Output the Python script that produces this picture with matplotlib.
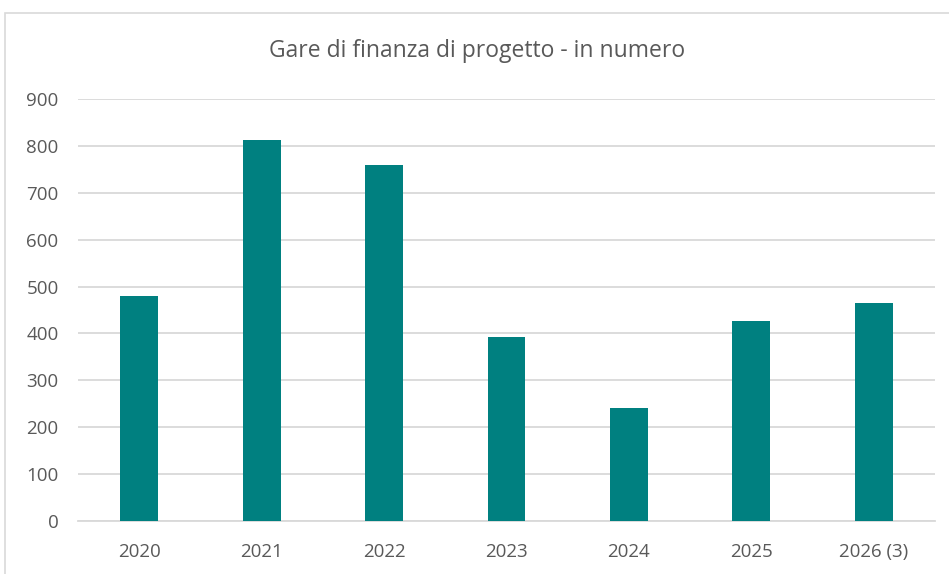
import matplotlib
matplotlib.use("Agg")
import matplotlib.pyplot as plt
from matplotlib.patches import Rectangle

categories = ["2020", "2021", "2022", "2023", "2024", "2025", "2026 (3)"]
values = [480, 812, 759, 393, 241, 426, 464]
yticks = [0, 100, 200, 300, 400, 500, 600, 700, 800, 900]
title = "Gare di finanza di progetto - in numero"

plt.rcParams['font.family'] = ['Open Sans', 'DejaVu Sans']
W, H = 949, 574
fig = plt.figure(figsize=(W / 100, H / 100), dpi=100)
fig.patch.set_facecolor("white")

# chart border
fig.patches.append(Rectangle((5 / W, -0.1), 1.1, 1 - 13 / H + 0.1, transform=fig.transFigure,
                             fill=False, edgecolor="#d9d9d9", linewidth=1.2))

ax = fig.add_axes([78 / W, 1 - 521 / H, (935 - 78) / W, (521 - 99) / H])
x = list(range(len(categories)))
ax.bar(x, values, width=0.31, color="#008080", zorder=3)
ax.set_xlim(-0.5, len(categories) - 0.5)
ax.set_ylim(0, 900)
ax.set_yticks(yticks)
ax.set_xticks(x)
ax.set_xticklabels(categories)
ax.grid(axis="y", color="#d9d9d9", linewidth=1.3, zorder=0)
for s in ["top", "right", "left"]:
    ax.spines[s].set_visible(False)
ax.spines["bottom"].set_color("#d9d9d9")
ax.spines["bottom"].set_linewidth(1.3)
ax.tick_params(axis="both", length=0, labelsize=13.5, colors="#595959")
ax.tick_params(axis="x", pad=16)
ax.tick_params(axis="y", pad=14)
fig.text(0.5 + 5 / W / 2, 1 - 51 / H, title, ha="center", va="center", fontsize=16.5, color="#595959")

fig.savefig("out.png", dpi=100, facecolor="white")
